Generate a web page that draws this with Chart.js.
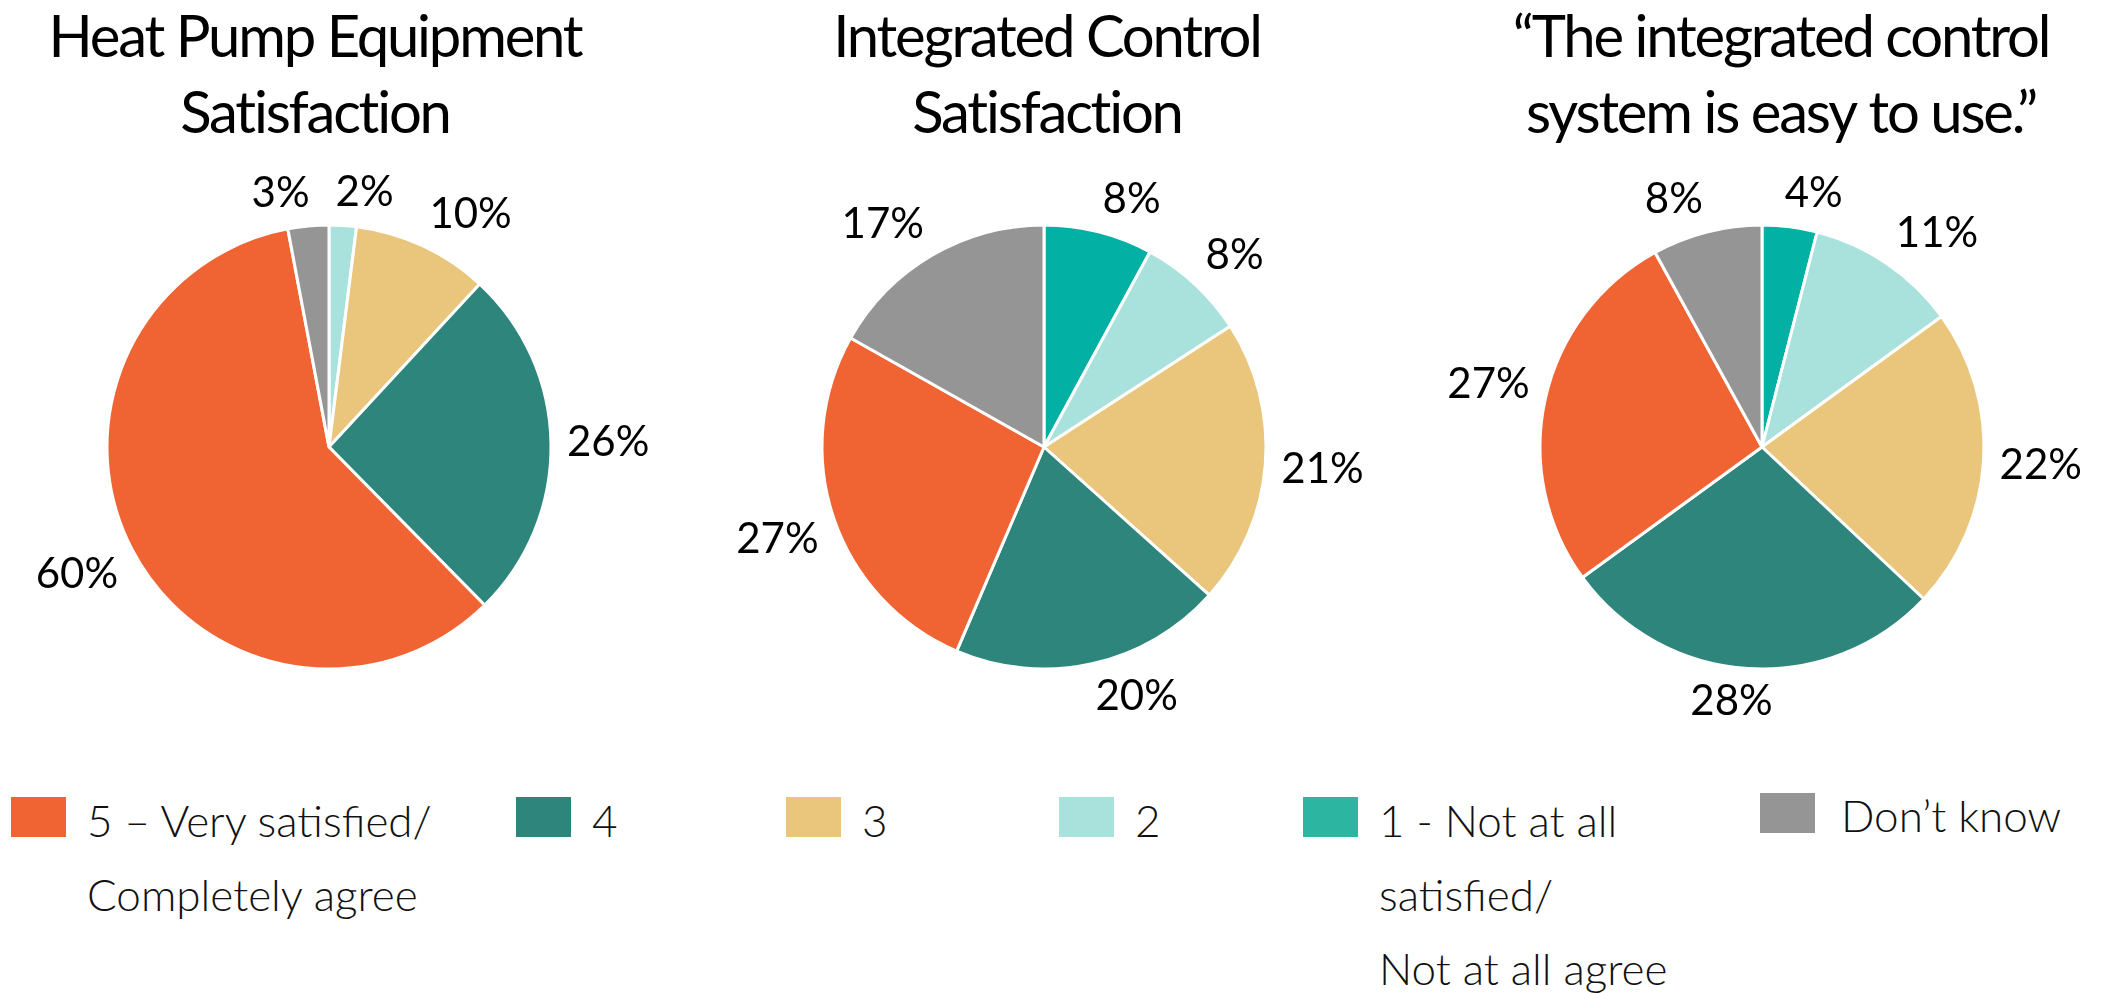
<!DOCTYPE html>
<html>
<head>
<meta charset="utf-8">
<script src="https://cdn.jsdelivr.net/npm/chart.js@4"></script>
<style>
  html, body { margin: 0; padding: 0; background: #fff; }
  body { width: 2107px; height: 993px; position: relative; overflow: hidden; font-family: Lato, sans-serif; }
  canvas { position: absolute; top: 0; }
  .box { position: absolute; width: 55px; height: 40px; }
  .txt { position: absolute; font-weight: 300; font-size: 44px; line-height: 74px; color: #111; white-space: nowrap; }
</style>
</head>
<body>
<canvas id="pie1" width="648" height="740" style="left:0px"></canvas>
<canvas id="pie2" width="648" height="740" style="left:720px"></canvas>
<canvas id="pie3" width="687" height="740" style="left:1420px"></canvas>
<div id="legend"></div>
<script>
// # Categories, in the order the slices run clockwise from 12 o'clock
const categories = ["1 - Not at all satisfied/ Not at all agree", "2", "3", "4", "5 – Very satisfied/ Completely agree", "Don’t know"];
const legendLines = [
  ["1 - Not at all", "satisfied/", "Not at all agree"],
  ["2"],
  ["3"],
  ["4"],
  ["5 – Very satisfied/", "Completely agree"],
  ["Don’t know"],
];
const legendOrder = [4, 3, 2, 1, 0, 5];
const colors = ["#02B1A4", "#A9E1DC", "#E9C67B", "#2E857C", "#F06434", "#959595"];
const legendColors = ["#2CB5A0", "#A9E1DC", "#E9C67B", "#2E857C", "#F06434", "#959595"];

// # Titles and values (percent) of each pie
const titles = [
  ["Heat Pump Equipment", "Satisfaction"],
  ["Integrated Control", "Satisfaction"],
  ["“The integrated control", "system is easy to use.”"],
];
const heatPumpValues = [0, 2, 10, 26, 60, 3];
const controlValues = [8, 8, 21, 20, 27, 17];
const easyToUseValues = [4, 11, 22, 28, 27, 8];

// # Percent labels outside the slices
const outsideLabels = {
  id: "outsideLabels",
  afterDatasetsDraw(chart) {
    const ctx = chart.ctx;
    const values = chart.data.datasets[0].data;
    const clamp = (v) => Math.max(-1, Math.min(1, v));
    const h = 34;
    const gap = 26;
    ctx.save();
    ctx.font = "42px Lato";
    ctx.fillStyle = "#000";
    ctx.textAlign = "center";
    ctx.textBaseline = "middle";
    const labels = [];
    chart.getDatasetMeta(0).data.forEach((arc, i) => {
      if (!values[i]) return;
      const { x, y, startAngle, endAngle, outerRadius } = arc.getProps(["x", "y", "startAngle", "endAngle", "outerRadius"], true);
      const mid = (startAngle + endAngle) / 2;
      const dx = Math.cos(mid);
      const dy = Math.sin(mid);
      const text = values[i] + "%";
      const w = ctx.measureText(text).width;
      labels.push({
        text, w,
        x: x + (outerRadius + 16) * dx + clamp(dx * 6) * w / 2,
        y: y + (outerRadius + 16) * dy + clamp(dy * 3) * h / 2,
      });
    });
    // push neighbours apart when they collide (the last wraps to the first)
    for (let k = 0; k < labels.length; k++) {
      const a = labels[(k + labels.length - 1) % labels.length];
      const b = labels[k];
      if (Math.abs(a.y - b.y) > h) continue;
      const left = a.x < b.x ? a : b;
      const right = left === a ? b : a;
      const overlap = left.x + left.w / 2 + gap - (right.x - right.w / 2);
      if (overlap > 0) {
        left.x -= overlap / 2;
        right.x += overlap / 2;
      }
    }
    labels.forEach((l) => ctx.fillText(l.text, l.x, l.y));
    ctx.restore();
  },
};

// # Tight title tracking and a sideways nudge, the source does not centre it on the pie
const titleStyle = {
  id: "titleStyle",
  afterLayout(chart, args, opts) {
    const t = chart.titleBlock;
    if (t && opts.dx) {
      t.left += opts.dx;
      t.right += opts.dx;
    }
  },
  beforeDraw(chart, args, opts) {
    chart.ctx.letterSpacing = opts.spacing;
  },
  beforeDatasetsDraw(chart) {
    chart.ctx.letterSpacing = "0px";
  },
};

const makePie = (id, title, values, shift, padding) =>
  new Chart(document.getElementById(id), {
    type: "pie",
    data: {
      labels: categories,
      datasets: [{ data: values, backgroundColor: colors, borderColor: "#fff", borderWidth: 3, radius: 222 }],
    },
    options: {
      responsive: false,
      animation: false,
      layout: { padding: padding },
      plugins: {
        legend: { display: false },
        tooltip: { enabled: false },
        title: {
          display: true,
          text: title,
          color: "#000",
          font: { family: "Lato", size: 58, weight: "normal", lineHeight: "76px" },
          padding: { top: 0, bottom: 8 },
        },
        titleStyle: { dx: shift, spacing: "-2.2px" },
      },
    },
    plugins: [outsideLabels, titleStyle],
  });

makePie("pie1", titles[0], heatPumpValues, -14, { left: 10, right: 0, bottom: 6 });
makePie("pie2", titles[1], controlValues, 3, { left: 0, right: 0, bottom: 6 });
makePie("pie3", titles[2], easyToUseValues, 19, { left: 0, right: 3, bottom: 6 });

// # Legend below the pies
const legendX = [11, 516, 786, 1059, 1303, 1760];
const legend = document.getElementById("legend");
legendOrder.forEach((c, k) => {
  const box = document.createElement("div");
  box.className = "box";
  box.style.left = legendX[k] + "px";
  box.style.top = (c === 5 ? 793 : 797) + "px";
  box.style.background = legendColors[c];
  legend.appendChild(box);

  const txt = document.createElement("div");
  txt.className = "txt";
  txt.style.left = legendX[k] + (c === 5 ? 81 : 76) + "px";
  txt.style.top = (c === 5 ? 778 : 783) + "px";
  txt.innerHTML = legendLines[c].join("<br>");
  legend.appendChild(txt);
});
</script>
</body>
</html>
